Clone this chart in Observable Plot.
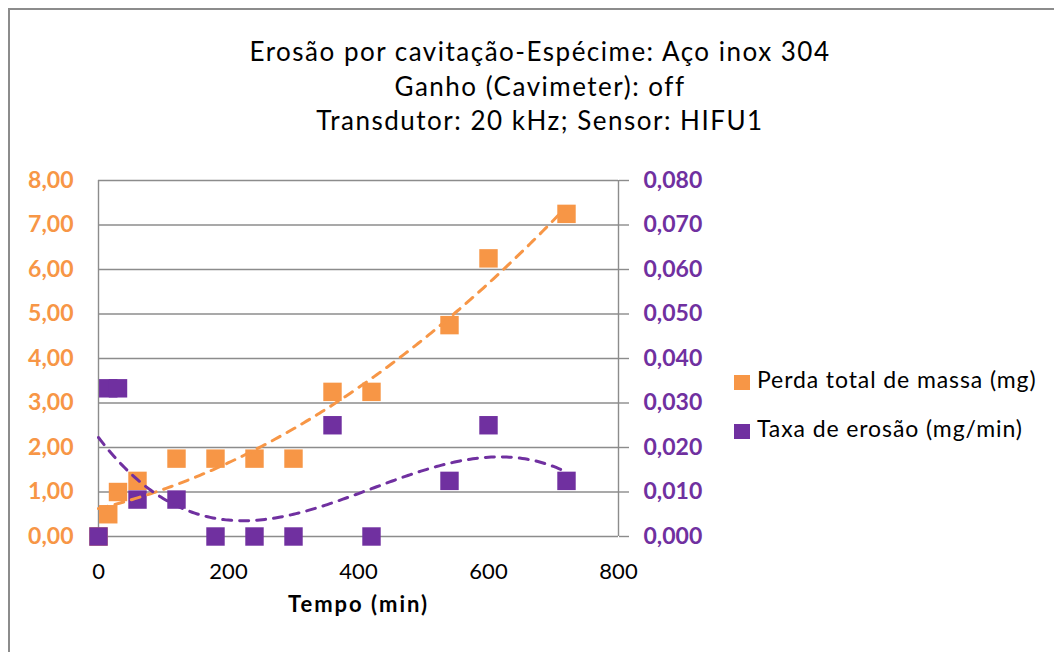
<!DOCTYPE html>
<html><head><meta charset="utf-8">
<script src="https://cdn.jsdelivr.net/npm/d3@7"></script>
<script src="https://cdn.jsdelivr.net/npm/@observablehq/plot@0.6"></script>
<style>
html,body{margin:0;padding:0;overflow:hidden;background:#fff;}
#wrap{position:relative;width:1054px;height:652px;overflow:hidden;font-family:Lato,"Open Sans",sans-serif;}
#frame{position:absolute;left:8px;top:8px;width:1200px;height:800px;border:2px solid #8c8c8c;box-sizing:border-box;}
.title{position:absolute;left:0;width:1080px;text-align:center;font-size:26px;letter-spacing:1.5px;line-height:34px;color:#000;white-space:nowrap;}
#chart{position:absolute;left:0;top:150px;}
.sw{position:absolute;left:734px;width:16px;height:15px;}
.lt{position:absolute;left:757px;font-size:23px;letter-spacing:0.9px;line-height:26px;color:#000;white-space:nowrap;}
</style></head>
<body>
<div id="wrap">
  <div id="frame"></div>
  <div class="title" style="top:34px">Erosão por cavitação-Espécime: Aço inox 304</div>
  <div class="title" style="top:69px">Ganho (Cavimeter): off</div>
  <div class="title" style="top:103px">Transdutor: 20 kHz; Sensor: HIFU1</div>
  <div id="chart"></div>
  <div class="sw" style="top:375px;background:#F79646"></div>
  <div class="lt" style="top:366px">Perda total de massa (mg)</div>
  <div class="sw" style="top:424px;background:#7030A0"></div>
  <div class="lt" style="top:415px">Taxa de erosão (mg/min)</div>
</div>
<script>
// ---- data ----
const tempo = [0, 15, 30, 60, 120, 180, 240, 300, 360, 420, 540, 600, 720];
const perda = [0, 0.5, 1.0, 1.25, 1.75, 1.75, 1.75, 1.75, 3.25, 3.25, 4.75, 6.25, 7.25];
const taxa  = [0, 0.0333, 0.0333, 0.0083, 0.0083, 0, 0, 0, 0.025, 0, 0.0125, 0.025, 0.0125];
const xTicks = [0, 200, 400, 600, 800];
const yTicks = [0, 1, 2, 3, 4, 5, 6, 7, 8];
const rateScale = 100; // right axis 0..0.08 mapped onto left 0..8

const ORANGE = "#F79646", PURPLE = "#7030A0", GRID = "#8c8c8c";

// least-squares polynomial trendline (like Excel)
function polyfit(xs, ys, deg) {
  const n = deg + 1;
  const A = Array.from({length: n}, () => new Array(n + 1).fill(0));
  for (let i = 0; i < xs.length; i++) {
    for (let r = 0; r < n; r++) {
      for (let c = 0; c < n; c++) A[r][c] += Math.pow(xs[i], r + c);
      A[r][n] += ys[i] * Math.pow(xs[i], r);
    }
  }
  for (let p = 0; p < n; p++) {
    let m = p;
    for (let r = p + 1; r < n; r++) if (Math.abs(A[r][p]) > Math.abs(A[m][p])) m = r;
    [A[p], A[m]] = [A[m], A[p]];
    for (let r = 0; r < n; r++) {
      if (r === p) continue;
      const f = A[r][p] / A[p][p];
      for (let c = p; c <= n; c++) A[r][c] -= f * A[p][c];
    }
  }
  const coef = A.map((row, i) => row[n] / row[i]);
  return x => coef.reduce((s, c, i) => s + c * Math.pow(x, i), 0);
}

const massRows = tempo.map((t, i) => ({t, v: perda[i]}));
const rateRows = tempo.map((t, i) => ({t, v: taxa[i] * rateScale}));
const fMass = polyfit(tempo, perda, 2);
const fRate = polyfit(tempo, taxa.map(v => v * rateScale), 3);
const xs = d3.range(0, d3.max(tempo) + 0.001, 4);
const massTrend = xs.map(t => ({t, v: fMass(t)}));
const rateTrend = xs.map(t => ({t, v: fRate(t)}));

const comma = (d, k) => d.toFixed(k).replace(".", ",");

const chart = Plot.plot({
  width: 1054,
  height: 502,
  marginLeft: 98,
  marginRight: 436,
  marginTop: 30,
  marginBottom: 116,
  style: {fontFamily: "Lato, 'Open Sans', sans-serif", background: "transparent", overflow: "visible"},
  x: {domain: [0, 800]},
  y: {domain: [0, 8]},
  marks: [
    Plot.gridY(yTicks, {stroke: GRID, strokeOpacity: 1, strokeWidth: 1.4}),
    Plot.ruleX([0, 800], {y1: 0, y2: 8, stroke: GRID, strokeWidth: 1.4}),
    Plot.axisY(yTicks, {anchor: "left", tickSize: 0, tickPadding: 25, tickFormat: d => comma(d, 2),
      fill: ORANGE, fontSize: 23, fontWeight: "bold", label: null}),
    Plot.axisY(yTicks, {anchor: "right", tickSize: 10, tickPadding: 15, stroke: GRID, strokeWidth: 1.4,
      tickFormat: d => comma(d / rateScale, 3), fill: PURPLE, fontSize: 23, fontWeight: "bold", label: null}),
    Plot.axisX(xTicks, {anchor: "bottom", tickSize: 0, tickPadding: 27, fill: "#000", fontSize: 22, label: null}),
    Plot.text(["Tempo (min)"], {frameAnchor: "bottom", dy: 75, fontSize: 22, fontWeight: "bold", fill: "#000"}),
    Plot.dot(massRows, {x: "t", y: "v", symbol: "square", r: 10.4, fill: ORANGE}),
    Plot.dot(rateRows, {x: "t", y: "v", symbol: "square", r: 10.4, fill: PURPLE}),
    Plot.line(massTrend, {x: "t", y: "v", stroke: ORANGE, strokeWidth: 3, strokeDasharray: "9,8", strokeLinecap: "round"}),
    Plot.line(rateTrend, {x: "t", y: "v", stroke: PURPLE, strokeWidth: 3, strokeDasharray: "9,8", strokeLinecap: "round"})
  ]
});
chart.querySelectorAll("text").forEach(t => {
  if (t.textContent === "Tempo (min)") t.style.letterSpacing = "2px";
});
document.getElementById("chart").appendChild(chart);
</script>
</body></html>
